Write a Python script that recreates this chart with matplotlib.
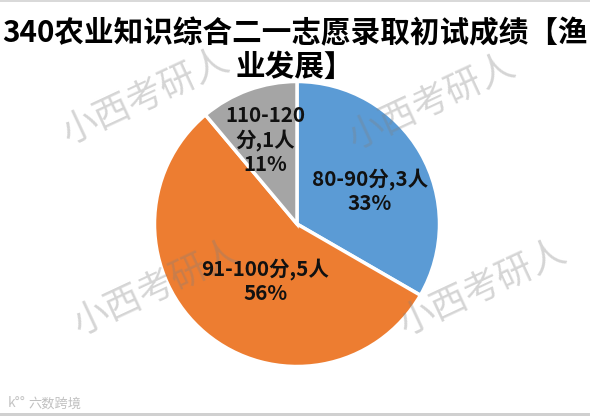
import matplotlib
matplotlib.use('Agg')
import matplotlib.pyplot as plt
from matplotlib.patches import Rectangle

plt.rcParams['font.family'] = ['Noto Sans CJK SC', 'DejaVu Sans']

title = '340农业知识综合二一志愿录取初试成绩【渔\n业发展】'
categories = ['80-90分', '91-100分', '110-120\n分']
counts = [3, 5, 1]
percents = ['33%', '56%', '11%']
colors = ['#5B9BD5', '#ED7D31', '#A5A5A5']
label_px = [(370, 191), (265, 281), (265, 140)]
watermark = '小西考研人'
wm_pos = [(146, 97), (432, 102), (157, 288), (483, 288)]

W, H = 590, 416
fig = plt.figure(figsize=(W/100, H/100), dpi=100)
fig.patch.set_facecolor('white')

cx, cy, r = 297, 224, 142.5
ax = fig.add_axes([(cx-r)/W, 1-(cy+r)/H, 2*r/W, 2*r/H])
ax.pie(counts, colors=colors, startangle=90, counterclock=False, radius=1,
       wedgeprops=dict(edgecolor='white', linewidth=2.5))
ax.set_xlim(-1, 1); ax.set_ylim(-1, 1)
ax.set_aspect('equal')
ax.patch.set_alpha(0)

for c, n, p, (x, y) in zip(categories, counts, percents, label_px):
    fig.text(x/W, 1-y/H, f'{c},{n}人\n{p}', ha='center', va='center', fontsize=14.8,
             fontweight='bold', color='#111111', linespacing=1.15, zorder=5)

fig.text(0.5, 1-50/H, title, ha='center', va='center', fontsize=21.3,
         fontweight='bold', color='black', linespacing=1.17, zorder=6)

for x, y in wm_pos:
    fig.text(x/W, 1-y/H, watermark, ha='center', va='center', fontsize=26,
             fontweight='light', rotation=25, color='#808080', alpha=0.33, zorder=4)

fig.text(17/W, 1-403/H, 'k°°', ha='center', va='center', fontsize=10, color='#c4c4c4')
fig.text(55/W, 1-404/H, '六数跨境', ha='center', va='center', fontsize=9.5, color='#c0c0c0')

fig.add_artist(Rectangle((0, 1-2/H), 1, 2/H, transform=fig.transFigure, color='#d9d9d9', lw=0))
fig.add_artist(Rectangle((0, 0), 1, 3/H, transform=fig.transFigure, color='#d0d0d0', lw=0))

fig.savefig('out.png', dpi=100)
